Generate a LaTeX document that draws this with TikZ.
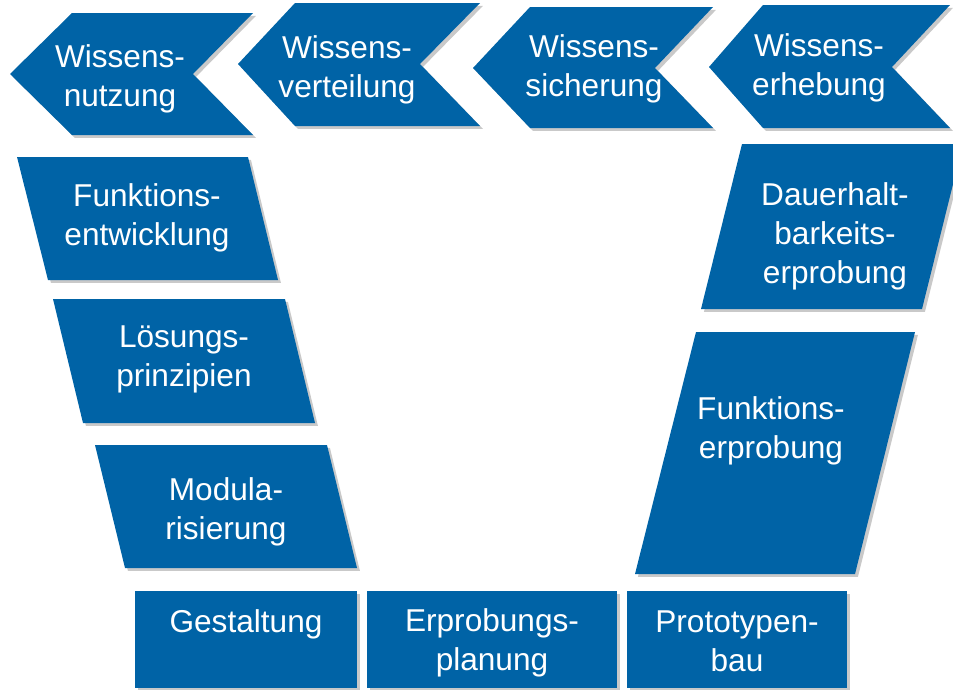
\documentclass[tikz,border=0pt]{standalone}
\usepackage{fontspec}
\setmainfont{Liberation Sans}
\usetikzlibrary{shadows}

\definecolor{tileblue}{RGB}{0,99,166}

\begin{document}
\begin{tikzpicture}[x=0.75pt,y=0.75pt,yscale=-1,
  tile/.style={fill=tileblue, draw=none, drop shadow={shadow xshift=2.2pt, shadow yshift=-2.2pt, opacity=0.3, fill=black!70}},
  lbl/.style={text=white, align=center, inner sep=0pt, font=\fontsize{23.7}{29.2}\selectfont}]
\clip (0,0) rectangle (953,689);

%Shape: Chevron
\path [tile] (10,74) -- (72,13) -- (253,13) -- (193,74) -- (253,135) -- (72,135) -- cycle ;
%Shape: Chevron
\path [tile] (238,64) -- (295,3) -- (480,3) -- (420,64) -- (480,126) -- (295,126) -- cycle ;
%Shape: Chevron
\path [tile] (473,68) -- (530,7) -- (713,7) -- (655,68) -- (713,128) -- (530,128) -- cycle ;
%Shape: Chevron
\path [tile] (709,67) -- (763,5) -- (950,5) -- (892,67) -- (950,128) -- (763,128) -- cycle ;

%Shape: Parallelogram
\path [tile] (17,157) -- (248,157) -- (278,280) -- (48,280) -- cycle ;
%Shape: Parallelogram
\path [tile] (53,299) -- (285,299) -- (315,423) -- (83,423) -- cycle ;
%Shape: Parallelogram
\path [tile] (95,445) -- (327,445) -- (357,568) -- (125,568) -- cycle ;
%Shape: Parallelogram
\path [tile] (742,144) -- (963,144) -- (922,309) -- (701,309) -- cycle ;
%Shape: Parallelogram
\path [tile] (696,332) -- (915,332) -- (855,574) -- (635,574) -- cycle ;

%Shape: Rectangle
\path [tile] (135,591) rectangle (357,688) ;
%Shape: Rectangle
\path [tile] (367,591) rectangle (617,688) ;
%Shape: Rectangle
\path [tile] (627,591) rectangle (847,688) ;

% Text Node
\node [lbl] (nutzung) at (120,79) {Wissens-\\nutzung};
% Text Node
\node [lbl] (verteilung) at (347,69.5) {Wissens-\\verteilung};
% Text Node
\node [lbl] (sicherung) at (594,68.5) {Wissens-\\sicherung};
% Text Node
\node [lbl] (erhebung) at (819,68) {Wissens-\\erhebung};
% Text Node
\node [lbl] (funktentw) at (147,218) {Funktions-\\entwicklung};
% Text Node
\node [lbl] (loesung) at (184,359.5) {Lösungs-\\prinzipien};
% Text Node
\node [lbl] (modul) at (226,512) {Modula-\\risierung};
% Text Node
\node [lbl] (dauer) at (835,236.5) {Dauerhalt-\\barkeits-\\erprobung};
% Text Node
\node [lbl] (funkterp) at (771,431) {Funktions-\\erprobung};
% Text Node
\node [lbl] (gestalt) at (246,624) {Gestaltung};
% Text Node
\node [lbl] (planung) at (492,643) {Erprobungs-\\planung};
% Text Node
\node [lbl] (proto) at (737,641) {Prototypen-\\bau};

\end{tikzpicture}
\end{document}
